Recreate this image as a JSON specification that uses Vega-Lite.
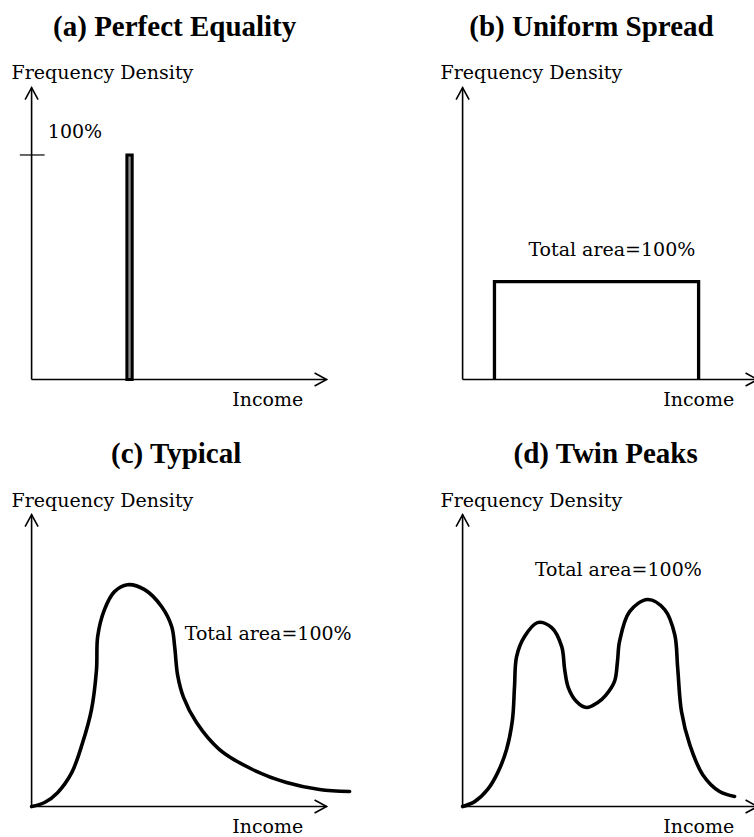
{
  "$schema": "https://vega.github.io/schema/vega-lite/v6.json",
  "background": "white",
  "padding": {"left": 8, "top": 9, "right": 0, "bottom": 0},
  "autosize": {"type": "pad"},
  "config": {"view": {"stroke": null}},
  "datasets": {
    "figure": [
      {"panel": "a", "kind": "axis", "dim": "y", "x": 0, "y": 0, "x2": 0, "y2": 130},
      {"panel": "a", "kind": "axis", "dim": "x", "x": 0, "y": 0, "x2": 100, "y2": 0},
      {"panel": "b", "kind": "axis", "dim": "y", "x": 0, "y": 0, "x2": 0, "y2": 130},
      {"panel": "b", "kind": "axis", "dim": "x", "x": 0, "y": 0, "x2": 100, "y2": 0},
      {"panel": "c", "kind": "axis", "dim": "y", "x": 0, "y": 0, "x2": 0, "y2": 130},
      {"panel": "c", "kind": "axis", "dim": "x", "x": 0, "y": 0, "x2": 100, "y2": 0},
      {"panel": "d", "kind": "axis", "dim": "y", "x": 0, "y": 0, "x2": 0, "y2": 130},
      {"panel": "d", "kind": "axis", "dim": "x", "x": 0, "y": 0, "x2": 100, "y2": 0},

      {"panel": "a", "kind": "title", "x": 48.5, "y": 153, "text": "(a) Perfect Equality"},
      {"panel": "b", "kind": "title", "x": 43.7, "y": 153, "text": "(b) Uniform Spread"},
      {"panel": "c", "kind": "title", "x": 49, "y": 153, "text": "(c) Typical"},
      {"panel": "d", "kind": "title", "x": 48.5, "y": 153, "text": "(d) Twin Peaks"},

      {"panel": "a", "kind": "label", "x": -6.8, "y": 134, "text": "Frequency Density"},
      {"panel": "b", "kind": "label", "x": -7.5, "y": 134, "text": "Frequency Density"},
      {"panel": "c", "kind": "label", "x": -6.8, "y": 133.5, "text": "Frequency Density"},
      {"panel": "d", "kind": "label", "x": -7.5, "y": 133.5, "text": "Frequency Density"},
      {"panel": "a", "kind": "label", "x": 68, "y": -11.9, "text": "Income"},
      {"panel": "b", "kind": "label", "x": 68, "y": -11.9, "text": "Income"},
      {"panel": "c", "kind": "label", "x": 68, "y": -11.7, "text": "Income"},
      {"panel": "d", "kind": "label", "x": 68, "y": -11.7, "text": "Income"},
      {"panel": "a", "kind": "label", "x": 5.5, "y": 107.6, "text": "100%"},
      {"panel": "b", "kind": "label", "x": 22.3, "y": 54.9, "text": "Total area=100%"},
      {"panel": "c", "kind": "label", "x": 51.9, "y": 74.0, "text": "Total area=100%"},
      {"panel": "d", "kind": "label", "x": 24.5, "y": 102.5, "text": "Total area=100%"},

      {"panel": "a", "kind": "tick", "x": -4, "x2": 4.4, "y": 100},
      {"panel": "a", "kind": "bar", "x": 32.3, "x2": 34.1, "y": 0, "y2": 100},

      {"panel": "b", "kind": "outline", "i": 0, "x": 10.8, "y": 0},
      {"panel": "b", "kind": "outline", "i": 1, "x": 10.8, "y": 43.6},
      {"panel": "b", "kind": "outline", "i": 2, "x": 80.0, "y": 43.6},
      {"panel": "b", "kind": "outline", "i": 3, "x": 80.0, "y": 0},

      {"panel": "c", "kind": "curve", "i": 0, "x": 0, "y": 0},
      {"panel": "c", "kind": "curve", "i": 1, "x": 4.4, "y": 1.8},
      {"panel": "c", "kind": "curve", "i": 2, "x": 8.8, "y": 6.2},
      {"panel": "c", "kind": "curve", "i": 3, "x": 13.6, "y": 15.1},
      {"panel": "c", "kind": "curve", "i": 4, "x": 17.3, "y": 28.5},
      {"panel": "c", "kind": "curve", "i": 5, "x": 20.3, "y": 43.2},
      {"panel": "c", "kind": "curve", "i": 6, "x": 22.0, "y": 61.0},
      {"panel": "c", "kind": "curve", "i": 7, "x": 22.4, "y": 75.7},
      {"panel": "c", "kind": "curve", "i": 8, "x": 24.7, "y": 87.7},
      {"panel": "c", "kind": "curve", "i": 9, "x": 28.1, "y": 95.7},
      {"panel": "c", "kind": "curve", "i": 10, "x": 32.5, "y": 98.8},
      {"panel": "c", "kind": "curve", "i": 11, "x": 38.3, "y": 96.6},
      {"panel": "c", "kind": "curve", "i": 12, "x": 44.1, "y": 89.0},
      {"panel": "c", "kind": "curve", "i": 13, "x": 47.5, "y": 80.1},
      {"panel": "c", "kind": "curve", "i": 14, "x": 48.5, "y": 71.2},
      {"panel": "c", "kind": "curve", "i": 15, "x": 49.5, "y": 58.5},
      {"panel": "c", "kind": "curve", "i": 16, "x": 51.5, "y": 48.6},
      {"panel": "c", "kind": "curve", "i": 17, "x": 55.9, "y": 37.4},
      {"panel": "c", "kind": "curve", "i": 18, "x": 63.7, "y": 25.4},
      {"panel": "c", "kind": "curve", "i": 19, "x": 74.9, "y": 16.5},
      {"panel": "c", "kind": "curve", "i": 20, "x": 86.4, "y": 10.7},
      {"panel": "c", "kind": "curve", "i": 21, "x": 97.6, "y": 7.6},
      {"panel": "c", "kind": "curve", "i": 22, "x": 107.8, "y": 6.7},

      {"panel": "d", "kind": "curve", "i": 0, "x": 0, "y": 0},
      {"panel": "d", "kind": "curve", "i": 1, "x": 4.1, "y": 2.2},
      {"panel": "d", "kind": "curve", "i": 2, "x": 8.5, "y": 7.6},
      {"panel": "d", "kind": "curve", "i": 3, "x": 11.9, "y": 15.1},
      {"panel": "d", "kind": "curve", "i": 4, "x": 14.9, "y": 25.4},
      {"panel": "d", "kind": "curve", "i": 5, "x": 16.9, "y": 38.7},
      {"panel": "d", "kind": "curve", "i": 6, "x": 17.6, "y": 53.4},
      {"panel": "d", "kind": "curve", "i": 7, "x": 18.3, "y": 66.8},
      {"panel": "d", "kind": "curve", "i": 8, "x": 21.0, "y": 75.7},
      {"panel": "d", "kind": "curve", "i": 9, "x": 25.4, "y": 81.9},
      {"panel": "d", "kind": "curve", "i": 10, "x": 30.2, "y": 79.7},
      {"panel": "d", "kind": "curve", "i": 11, "x": 33.6, "y": 71.2},
      {"panel": "d", "kind": "curve", "i": 12, "x": 34.6, "y": 61.0},
      {"panel": "d", "kind": "curve", "i": 13, "x": 35.8, "y": 53.1},
      {"panel": "d", "kind": "curve", "i": 14, "x": 38.6, "y": 46.8},
      {"panel": "d", "kind": "curve", "i": 15, "x": 42.0, "y": 44.1},
      {"panel": "d", "kind": "curve", "i": 16, "x": 45.8, "y": 46.3},
      {"panel": "d", "kind": "curve", "i": 17, "x": 48.5, "y": 49.5},
      {"panel": "d", "kind": "curve", "i": 18, "x": 51.5, "y": 55.7},
      {"panel": "d", "kind": "curve", "i": 19, "x": 52.5, "y": 64.6},
      {"panel": "d", "kind": "curve", "i": 20, "x": 53.2, "y": 73.5},
      {"panel": "d", "kind": "curve", "i": 21, "x": 56.6, "y": 86.8},
      {"panel": "d", "kind": "curve", "i": 22, "x": 62.7, "y": 92.2},
      {"panel": "d", "kind": "curve", "i": 23, "x": 68.5, "y": 87.7},
      {"panel": "d", "kind": "curve", "i": 24, "x": 71.9, "y": 76.6},
      {"panel": "d", "kind": "curve", "i": 25, "x": 72.9, "y": 61.9},
      {"panel": "d", "kind": "curve", "i": 26, "x": 74.2, "y": 42.3},
      {"panel": "d", "kind": "curve", "i": 27, "x": 77.0, "y": 27.6},
      {"panel": "d", "kind": "curve", "i": 28, "x": 81.4, "y": 14.2},
      {"panel": "d", "kind": "curve", "i": 29, "x": 87.1, "y": 6.7},
      {"panel": "d", "kind": "curve", "i": 30, "x": 92.2, "y": 4.5}
    ]
  },
  "spacing": 25,
  "vconcat": [
    {
      "spacing": 77,
      "hconcat": [
        {
          "width": 354, "height": 402,
          "data": {"name": "figure"},
          "transform": [{"filter": "datum.panel === 'a'"}],
          "encoding": {
            "x": {"field": "x", "type": "quantitative", "axis": null, "scale": {"domain": [-8, 112], "nice": false, "zero": false}},
            "y": {"field": "y", "type": "quantitative", "axis": null, "scale": {"domain": [-14, 165], "nice": false, "zero": false}}
          },
          "layer": [
            {"transform": [{"filter": "datum.kind === 'axis'"}], "mark": {"type": "rule", "color": "black", "strokeWidth": 1.6}, "encoding": {"x2": {"field": "x2"}, "y2": {"field": "y2"}}},
            {"transform": [{"filter": "datum.kind === 'axis' && datum.dim === 'y'"}], "mark": {"type": "point", "shape": "M-1,1.85L0,0L1,1.85", "filled": false, "size": 169, "strokeWidth": 1.6, "color": "black", "opacity": 1, "angle": 0}, "encoding": {"x": {"field": "x2", "type": "quantitative"}, "y": {"field": "y2", "type": "quantitative"}}},
            {"transform": [{"filter": "datum.kind === 'axis' && datum.dim === 'x'"}], "mark": {"type": "point", "shape": "M-1,1.85L0,0L1,1.85", "filled": false, "size": 169, "strokeWidth": 1.6, "color": "black", "opacity": 1, "angle": 90}, "encoding": {"x": {"field": "x2", "type": "quantitative"}, "y": {"field": "y2", "type": "quantitative"}}},
            {"transform": [{"filter": "datum.kind === 'tick'"}], "mark": {"type": "rule", "color": "black", "strokeWidth": 1.2}, "encoding": {"x2": {"field": "x2"}}},
            {"transform": [{"filter": "datum.kind === 'bar'"}], "mark": {"type": "rect", "fill": "#8f8f8f", "stroke": "black", "strokeWidth": 3}, "encoding": {"x2": {"field": "x2"}, "y2": {"field": "y2"}}},
            {"transform": [{"filter": "datum.kind === 'label'"}], "mark": {"type": "text", "align": "left", "baseline": "alphabetic", "font": "DejaVu Serif", "fontSize": 19, "color": "black"}, "encoding": {"text": {"field": "text"}}},
            {"transform": [{"filter": "datum.kind === 'title'"}], "mark": {"type": "text", "align": "center", "baseline": "alphabetic", "font": "Liberation Serif", "fontWeight": "bold", "fontSize": 29, "color": "black"}, "encoding": {"text": {"field": "text"}}}
          ]
        },
        {
          "width": 354, "height": 402,
          "data": {"name": "figure"},
          "transform": [{"filter": "datum.panel === 'b'"}],
          "encoding": {
            "x": {"field": "x", "type": "quantitative", "axis": null, "scale": {"domain": [-8, 112], "nice": false, "zero": false}},
            "y": {"field": "y", "type": "quantitative", "axis": null, "scale": {"domain": [-14, 165], "nice": false, "zero": false}}
          },
          "layer": [
            {"transform": [{"filter": "datum.kind === 'axis'"}], "mark": {"type": "rule", "color": "black", "strokeWidth": 1.6}, "encoding": {"x2": {"field": "x2"}, "y2": {"field": "y2"}}},
            {"transform": [{"filter": "datum.kind === 'axis' && datum.dim === 'y'"}], "mark": {"type": "point", "shape": "M-1,1.85L0,0L1,1.85", "filled": false, "size": 169, "strokeWidth": 1.6, "color": "black", "opacity": 1, "angle": 0}, "encoding": {"x": {"field": "x2", "type": "quantitative"}, "y": {"field": "y2", "type": "quantitative"}}},
            {"transform": [{"filter": "datum.kind === 'axis' && datum.dim === 'x'"}], "mark": {"type": "point", "shape": "M-1,1.85L0,0L1,1.85", "filled": false, "size": 169, "strokeWidth": 1.6, "color": "black", "opacity": 1, "angle": 90}, "encoding": {"x": {"field": "x2", "type": "quantitative"}, "y": {"field": "y2", "type": "quantitative"}}},
            {"transform": [{"filter": "datum.kind === 'outline'"}], "mark": {"type": "line", "color": "black", "strokeWidth": 3.3, "interpolate": "linear", "strokeJoin": "miter"}, "encoding": {"order": {"field": "i", "type": "quantitative"}}},
            {"transform": [{"filter": "datum.kind === 'label'"}], "mark": {"type": "text", "align": "left", "baseline": "alphabetic", "font": "DejaVu Serif", "fontSize": 19, "color": "black"}, "encoding": {"text": {"field": "text"}}},
            {"transform": [{"filter": "datum.kind === 'title'"}], "mark": {"type": "text", "align": "center", "baseline": "alphabetic", "font": "Liberation Serif", "fontWeight": "bold", "fontSize": 29, "color": "black"}, "encoding": {"text": {"field": "text"}}}
          ]
        }
      ]
    },
    {
      "spacing": 77,
      "hconcat": [
        {
          "width": 354, "height": 402,
          "data": {"name": "figure"},
          "transform": [{"filter": "datum.panel === 'c'"}],
          "encoding": {
            "x": {"field": "x", "type": "quantitative", "axis": null, "scale": {"domain": [-8, 112], "nice": false, "zero": false}},
            "y": {"field": "y", "type": "quantitative", "axis": null, "scale": {"domain": [-14, 165], "nice": false, "zero": false}}
          },
          "layer": [
            {"transform": [{"filter": "datum.kind === 'axis'"}], "mark": {"type": "rule", "color": "black", "strokeWidth": 1.6}, "encoding": {"x2": {"field": "x2"}, "y2": {"field": "y2"}}},
            {"transform": [{"filter": "datum.kind === 'axis' && datum.dim === 'y'"}], "mark": {"type": "point", "shape": "M-1,1.85L0,0L1,1.85", "filled": false, "size": 169, "strokeWidth": 1.6, "color": "black", "opacity": 1, "angle": 0}, "encoding": {"x": {"field": "x2", "type": "quantitative"}, "y": {"field": "y2", "type": "quantitative"}}},
            {"transform": [{"filter": "datum.kind === 'axis' && datum.dim === 'x'"}], "mark": {"type": "point", "shape": "M-1,1.85L0,0L1,1.85", "filled": false, "size": 169, "strokeWidth": 1.6, "color": "black", "opacity": 1, "angle": 90}, "encoding": {"x": {"field": "x2", "type": "quantitative"}, "y": {"field": "y2", "type": "quantitative"}}},
            {"transform": [{"filter": "datum.kind === 'curve'"}], "mark": {"type": "line", "color": "black", "strokeWidth": 3.6, "interpolate": "catmull-rom", "strokeCap": "round"}, "encoding": {"order": {"field": "i", "type": "quantitative"}}},
            {"transform": [{"filter": "datum.kind === 'label'"}], "mark": {"type": "text", "align": "left", "baseline": "alphabetic", "font": "DejaVu Serif", "fontSize": 19, "color": "black"}, "encoding": {"text": {"field": "text"}}},
            {"transform": [{"filter": "datum.kind === 'title'"}], "mark": {"type": "text", "align": "center", "baseline": "alphabetic", "font": "Liberation Serif", "fontWeight": "bold", "fontSize": 29, "color": "black"}, "encoding": {"text": {"field": "text"}}}
          ]
        },
        {
          "width": 354, "height": 402,
          "data": {"name": "figure"},
          "transform": [{"filter": "datum.panel === 'd'"}],
          "encoding": {
            "x": {"field": "x", "type": "quantitative", "axis": null, "scale": {"domain": [-8, 112], "nice": false, "zero": false}},
            "y": {"field": "y", "type": "quantitative", "axis": null, "scale": {"domain": [-14, 165], "nice": false, "zero": false}}
          },
          "layer": [
            {"transform": [{"filter": "datum.kind === 'axis'"}], "mark": {"type": "rule", "color": "black", "strokeWidth": 1.6}, "encoding": {"x2": {"field": "x2"}, "y2": {"field": "y2"}}},
            {"transform": [{"filter": "datum.kind === 'axis' && datum.dim === 'y'"}], "mark": {"type": "point", "shape": "M-1,1.85L0,0L1,1.85", "filled": false, "size": 169, "strokeWidth": 1.6, "color": "black", "opacity": 1, "angle": 0}, "encoding": {"x": {"field": "x2", "type": "quantitative"}, "y": {"field": "y2", "type": "quantitative"}}},
            {"transform": [{"filter": "datum.kind === 'axis' && datum.dim === 'x'"}], "mark": {"type": "point", "shape": "M-1,1.85L0,0L1,1.85", "filled": false, "size": 169, "strokeWidth": 1.6, "color": "black", "opacity": 1, "angle": 90}, "encoding": {"x": {"field": "x2", "type": "quantitative"}, "y": {"field": "y2", "type": "quantitative"}}},
            {"transform": [{"filter": "datum.kind === 'curve'"}], "mark": {"type": "line", "color": "black", "strokeWidth": 3.6, "interpolate": "catmull-rom", "strokeCap": "round"}, "encoding": {"order": {"field": "i", "type": "quantitative"}}},
            {"transform": [{"filter": "datum.kind === 'label'"}], "mark": {"type": "text", "align": "left", "baseline": "alphabetic", "font": "DejaVu Serif", "fontSize": 19, "color": "black"}, "encoding": {"text": {"field": "text"}}},
            {"transform": [{"filter": "datum.kind === 'title'"}], "mark": {"type": "text", "align": "center", "baseline": "alphabetic", "font": "Liberation Serif", "fontWeight": "bold", "fontSize": 29, "color": "black"}, "encoding": {"text": {"field": "text"}}}
          ]
        }
      ]
    }
  ]
}
